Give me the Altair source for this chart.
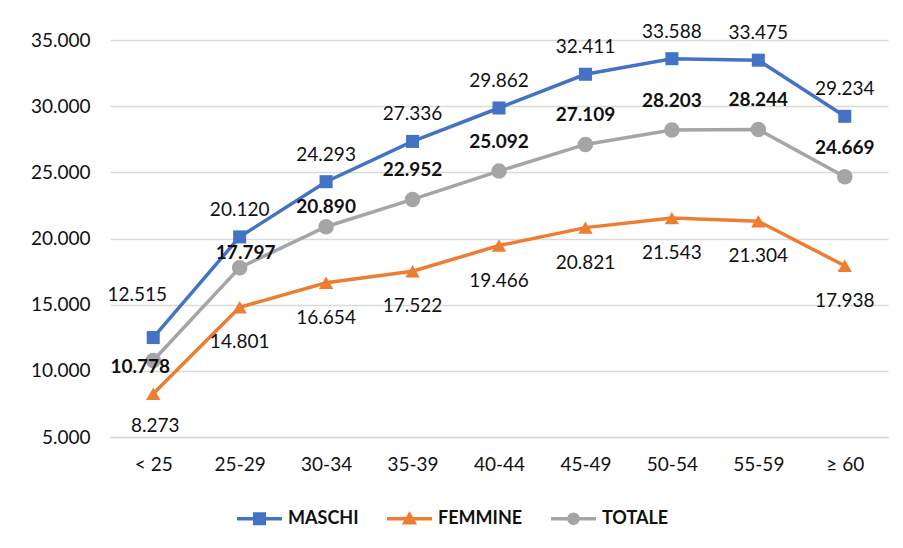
import altair as alt
import pandas as pd

fasce = ["< 25", "25-29", "30-34", "35-39", "40-44", "45-49", "50-54", "55-59", "≥ 60"]
maschi = [12515, 20120, 24293, 27336, 29862, 32411, 33588, 33475, 29234]
femmine = [8273, 14801, 16654, 17522, 19466, 20821, 21543, 21304, 17938]
totale = [10778, 17797, 20890, 22952, 25092, 27109, 28203, 28244, 24669]
serie = ["MASCHI", "FEMMINE", "TOTALE"]
colori = ["#4472C4", "#ED7D31", "#A5A5A5"]

rows = []
for s, vals in zip(serie, [maschi, femmine, totale]):
    for f, v in zip(fasce, vals):
        rows.append({"fascia": f, "serie": s, "legenda": s, "valore": v,
                     "etichetta": f"{v:,}".replace(",", ".")})
df = pd.DataFrame(rows)

FONT = "Lato"
xenc = alt.X("fascia:N", sort=fasce, scale=alt.Scale(type="point", padding=0.5),
             axis=alt.Axis(title=None, labelAngle=0, ticks=False, labelPadding=18,
                           labelFontSize=19, labelColor="#111", domainColor="#D9D9D9",
                           domainWidth=1.5, grid=False))
yenc = alt.Y("valore:Q", scale=alt.Scale(domain=[5000, 35000], nice=False, zero=False),
             axis=alt.Axis(title=None, values=[5000, 10000, 15000, 20000, 25000, 30000, 35000],
                           labelExpr="replace(format(datum.value, ',.0f'), ',', '.')",
                           ticks=False, domain=False, labelPadding=20, labelFontSize=19,
                           labelColor="#111", gridColor="#D9D9D9", gridWidth=1.5))

col_scale = alt.Scale(domain=serie, range=colori)
base = alt.Chart(df).encode(x=xenc, y=yenc)

lines = base.mark_line(strokeWidth=3.5).encode(
    color=alt.Color("serie:N", scale=col_scale, legend=None),
    detail="serie:N")

points = base.mark_point(filled=True, opacity=1).encode(
    color=alt.Color("serie:N", scale=col_scale, legend=None),
    shape=alt.Shape("serie:N", scale=alt.Scale(domain=serie, range=["square", "triangle-up", "circle"]), legend=None),
    size=alt.Size("serie:N", scale=alt.Scale(domain=serie, range=[170, 240, 160]), legend=None))


def etichette(nome, fascia_sel, dx, dy, bold=False):
    cond = (alt.datum.serie == nome) & (alt.datum.fascia == fascia_sel) if fascia_sel else \
        (alt.datum.serie == nome) & (alt.datum.fascia != "< 25") & \
        (alt.datum.fascia != ("25-29" if nome == "TOTALE" else "__")) & \
        (alt.datum.fascia != ("30-34" if nome == "TOTALE" else "__"))
    return base.transform_filter(cond).mark_text(
        dx=dx, dy=dy, fontSize=19, font=FONT, color="#111",
        fontWeight="bold" if bold else "normal").encode(text="etichetta:N")


labels = [
    etichette("MASCHI", None, 0, -27),
    etichette("MASCHI", "< 25", -16, -43),
    etichette("FEMMINE", None, 0, 35),
    etichette("FEMMINE", "< 25", 2, 32),
    etichette("TOTALE", None, 0, -29, True),
    etichette("TOTALE", "< 25", -13, 6, True),
    etichette("TOTALE", "25-29", 6, -15, True),
    etichette("TOTALE", "30-34", 0, -20, True),
]

paths = [
    "M-1,-0.08H1V0.08H-1Z M-0.29,-0.29H0.29V0.29H-0.29Z",
    "M-1,-0.08H1V0.08H-1Z M0,-0.34L0.34,0.26L-0.34,0.26Z",
    "M-1,-0.08H1V0.08H-1Z M-0.28,0A0.28,0.28 0 1,1 0.28,0A0.28,0.28 0 1,1 -0.28,0Z",
]
leg = alt.Legend(title=None, orient="none", direction="horizontal", symbolSize=2025,
                 legendX=127, legendY=456,
                 symbolStrokeWidth=0, labelFontSize=18, labelFont=FONT, labelFontWeight="bold",
                 labelColor="#111", columnPadding=28, labelOffset=6)
legend_layer = base.transform_filter("false").mark_point(filled=True, opacity=1).encode(
    color=alt.Color("legenda:N", scale=alt.Scale(domain=serie, range=colori), legend=leg),
    shape=alt.Shape("legenda:N", scale=alt.Scale(domain=serie, range=paths), legend=leg))

chart = alt.layer(lines, points, *labels, legend_layer).resolve_scale(
    color="independent", shape="independent").properties(
    width=778, height=397,
    autosize=alt.AutoSizeParams(type="none"),
    padding={"left": 102, "top": 32, "right": 7, "bottom": 103},
).configure(font=FONT).configure_view(stroke=None)

chart.save("out.html", embed_options={"renderer": "svg", "actions": False})
